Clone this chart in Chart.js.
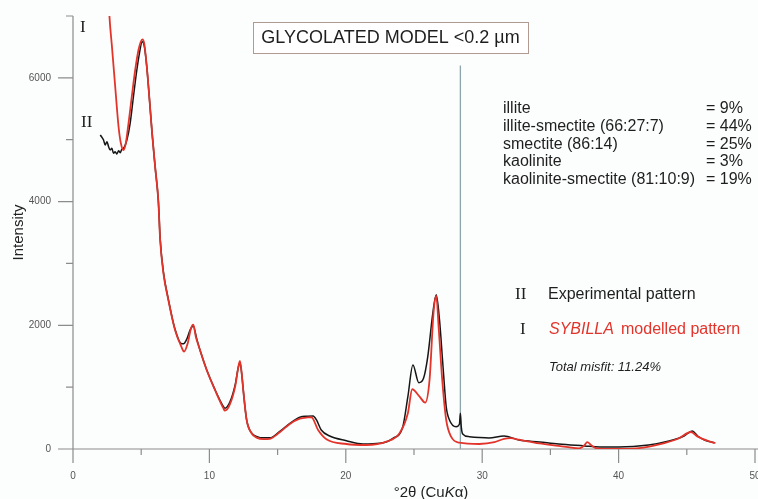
<!DOCTYPE html>
<html>
<head>
<meta charset="utf-8">
<script src="https://cdn.jsdelivr.net/npm/chart.js@4.4.1/dist/chart.umd.min.js"></script>
<style>
  html, body { margin: 0; padding: 0; background: #fcfdfd; }
  #wrap { width: 758px; height: 499px; }
</style>
</head>
<body>
<div id="wrap"><canvas id="xrd" width="758" height="499"></canvas></div>
<script>
// ---------- Pattern data ----------
const EXP_2THETA = [2.00,2.24,2.36,2.49,2.61,2.73,2.85,2.97,3.09,3.22,3.34,3.46,3.58,3.70,3.95,4.19,4.43,4.68,4.87,5.07,5.22,5.41,5.61,5.80,6.02,6.26,6.39,6.63,6.99,7.48,7.97,8.10,8.35,8.60,8.82,9.05,9.31,9.80,10.41,11.02,11.14,11.50,11.90,12.10,12.24,12.40,12.48,12.73,13.09,13.50,13.94,14.43,15.16,15.90,16.63,17.20,17.60,17.85,18.20,18.82,20.04,21.26,22.48,23.45,24.18,24.55,24.92,25.35,25.70,26.01,26.38,26.63,26.87,27.11,27.36,27.60,28.09,28.33,28.40,28.47,28.57,29.06,29.79,30.50,31.60,32.70,34.20,35.60,37.50,38.60,40.00,42.20,43.70,44.80,45.40,45.80,46.30,46.80,47.00];
const EXP_COUNTS = [5076,4995,4914,4968,4887,4834,4860,4780,4806,4769,4822,4790,4845,4860,4995,5265,5695,6127,6397,6584,6520,6180,5642,5103,4565,4000,3400,2860,2420,1935,1700,1700,1780,1930,1990,1800,1600,1280,960,690,660,760,1050,1300,1400,1150,960,470,260,200,180,180,285,415,513,530,534,470,307,210,134,81,92,173,361,846,1359,1073,1144,1494,2196,2492,2087,1387,685,470,361,400,578,350,243,199,185,178,210,145,113,81,50,32,32,65,129,210,290,210,145,113,100];

const MOD_2THETA = [2.30,2.66,2.85,3.09,3.34,3.51,3.70,3.87,4.07,4.31,4.56,4.80,4.97,5.09,5.22,5.41,5.61,5.80,6.02,6.26,6.39,6.63,6.99,7.48,7.97,8.14,8.40,8.65,8.82,9.00,9.31,9.80,10.41,11.02,11.14,11.50,11.90,12.10,12.24,12.40,12.48,12.73,13.09,13.50,13.94,14.43,15.16,15.90,16.63,17.20,17.48,17.97,18.58,20.04,21.50,22.97,23.94,24.55,24.87,25.41,25.82,26.14,26.43,26.63,26.82,27.07,27.36,27.72,28.33,29.79,30.90,31.60,32.10,32.70,34.20,35.60,36.30,37.10,37.50,37.70,38.00,38.40,39.30,41.50,42.90,44.40,45.30,45.80,46.70,47.10];
const MOD_COUNTS = [9000,7043,6520,5868,5210,4942,4834,4942,5265,5695,6127,6450,6584,6623,6558,6180,5642,5103,4565,4000,3379,2840,2409,1924,1640,1573,1700,1950,2010,1820,1600,1277,954,660,619,720,1020,1300,1425,1150,954,469,254,180,160,165,270,405,490,510,513,307,157,81,65,118,254,577,966,846,750,1117,2196,2476,1926,1117,470,199,102,81,110,165,175,150,90,50,30,10,60,110,60,10,0,15,70,170,275,200,120,95];

const X_TICKS = [0,10,20,30,40,50];
const Y_TICKS = [0,2000,4000,6000];
const MARKER_2THETA = 28.4;
const MARKER_TOP = 6200;

const TITLE_TEXT = 'GLYCOLATED MODEL <0.2 µm';
const PHASES = ['illite','illite-smectite (66:27:7)','smectite (86:14)','kaolinite','kaolinite-smectite (81:10:9)'];
const PHASE_PCT = ['= 9%','= 44%','= 25%','= 3%','= 19%'];
const MISFIT = 'Total misfit: 11.24%';

const RED = '#e2342b';
const BLACK = '#161616';
const AXIS = '#8c8c8c';
const SANS = '"Liberation Sans", Arial, sans-serif';
const SERIF = '"Liberation Serif", "Times New Roman", serif';

const toPts = (xs, ys) => xs.map((x, i) => ({ x, y: ys[i] }));

// fixed plot box: the axes must not reserve room for label overhang
function noPad(s) { s.paddingLeft = s.paddingRight = s.paddingTop = s.paddingBottom = 0; }

// ---------- custom axes + annotations ----------
const decor = {
  id: 'decor',
  beforeDraw(chart) {
    const c = chart.ctx;
    c.save();
    c.fillStyle = '#fcfdfd';
    c.fillRect(0, 0, chart.width, chart.height);
    c.restore();
  },
  beforeDatasetsDraw(chart) {
    const c = chart.ctx, xs = chart.scales.x, ys = chart.scales.y;
    const x0 = xs.getPixelForValue(0), y0 = ys.getPixelForValue(0);
    c.save();
    c.strokeStyle = AXIS;
    c.lineWidth = 1.2;
    c.beginPath();
    // y axis (runs past the x axis)
    c.moveTo(x0, ys.getPixelForValue(7000)); c.lineTo(x0, y0 + 14);
    // x axis (starts left of y axis)
    c.moveTo(x0 - 15, y0); c.lineTo(chart.width, y0);
    for (let v = 0; v <= 7000; v += 1000) {
      const p = ys.getPixelForValue(v);
      c.moveTo(x0 - (v % 2000 === 0 ? 15 : 7), p); c.lineTo(x0, p);
    }
    for (let v = 5; v <= 50; v += 5) {
      const p = xs.getPixelForValue(v);
      c.moveTo(p, y0); c.lineTo(p, y0 + (v % 10 === 0 ? 14 : 6));
    }
    c.stroke();
    // vertical reference line
    c.strokeStyle = '#8fa6ad';
    c.lineWidth = 1.3;
    c.beginPath();
    const mx = xs.getPixelForValue(MARKER_2THETA);
    c.moveTo(mx, ys.getPixelForValue(MARKER_TOP)); c.lineTo(mx, y0);
    c.stroke();
    c.restore();
  },
  afterDraw(chart) {
    const c = chart.ctx;
    c.save();
    // title box
    c.fillStyle = '#ffffff';
    c.fillRect(253, 22, 275, 31);
    c.strokeStyle = '#b09a92';
    c.lineWidth = 1;
    c.strokeRect(253.5, 22.5, 275, 31);
    c.fillStyle = '#1e1e1e';
    c.font = '18px ' + SANS;
    c.textBaseline = 'middle';
    c.textAlign = 'center';
    c.fillText(TITLE_TEXT, 390.5, 38.5);

    // phase list
    c.textAlign = 'left';
    c.font = '16px ' + SANS;
    PHASES.forEach((p, i) => {
      const y = 108.5 + i * 17.8;
      c.fillText(p, 503, y);
      c.fillText(PHASE_PCT[i], 706, y);
    });

    // legend
    c.font = '17px ' + SERIF;
    c.fillText('II', 515, 295);
    c.fillText('I', 520, 330);
    c.font = '16px ' + SANS;
    c.fillText('Experimental pattern', 548, 295);
    c.fillStyle = RED;
    c.font = 'italic 16px ' + SANS;
    c.fillText('SYBILLA', 549, 330);
    c.font = '16px ' + SANS;
    c.fillText('modelled pattern', 621, 330);
    c.fillStyle = '#1e1e1e';
    c.font = 'italic 13px ' + SANS;
    c.fillText(MISFIT, 549, 367);

    // curve tags near the low-angle end
    c.font = '17px ' + SERIF;
    c.fillText('I', 80, 28);
    c.fillText('II', 81, 123);

    // x axis title with italic K
    c.textBaseline = 'alphabetic';
    c.font = '15px ' + SANS;
    const a = '°2θ (Cu', b = 'K', d = 'α)';
    const wa = c.measureText(a).width, wd = c.measureText(d).width;
    c.font = 'italic 15px ' + SANS;
    const wb = c.measureText(b).width;
    let x = 431 - (wa + wb + wd) / 2;
    c.font = '15px ' + SANS;
    c.fillText(a, x, 497); x += wa;
    c.font = 'italic 15px ' + SANS;
    c.fillText(b, x, 497); x += wb;
    c.font = '15px ' + SANS;
    c.fillText(d, x, 497);
    c.restore();
  }
};

new Chart(document.getElementById('xrd'), {
  type: 'line',
  data: {
    datasets: [
      { label: 'SYBILLA modelled pattern', data: toPts(MOD_2THETA, MOD_COUNTS),
        borderColor: RED, borderWidth: 1.8, pointRadius: 0, cubicInterpolationMode: 'monotone', fill: false },
      { label: 'Experimental pattern', data: toPts(EXP_2THETA, EXP_COUNTS),
        borderColor: BLACK, borderWidth: 1.5, pointRadius: 0, cubicInterpolationMode: 'monotone', fill: false }
    ]
  },
  options: {
    responsive: false,
    animation: false,
    devicePixelRatio: 1,
    layout: { autoPadding: false, padding: { left: 0, right: 3, top: 16, bottom: 0 } },
    plugins: { legend: { display: false }, tooltip: { enabled: false } },
    scales: {
      x: {
        type: 'linear', min: 0, max: 50,
        afterFit: s => { s.height = 50; noPad(s); },
        afterBuildTicks: s => { s.ticks = X_TICKS.map(v => ({ value: v })); },
        grid: { display: false, drawTicks: false },
        border: { display: false },
        ticks: { padding: 21, color: '#555', font: { family: SANS, size: 10 }, maxRotation: 0 }
      },
      y: {
        type: 'linear', min: 0, max: 7000,
        afterFit: s => { s.width = 73; noPad(s); },
        afterBuildTicks: s => { s.ticks = Y_TICKS.map(v => ({ value: v })); },
        grid: { display: false, drawTicks: false },
        border: { display: false },
        ticks: { padding: 22, color: '#555', font: { family: SANS, size: 10 }, callback: v => String(v) },
        title: { display: true, text: 'Intensity', color: '#222', font: { family: SANS, size: 15 }, padding: { top: 10, bottom: 0 } }
      }
    }
  },
  plugins: [decor]
});
</script>
</body>
</html>
